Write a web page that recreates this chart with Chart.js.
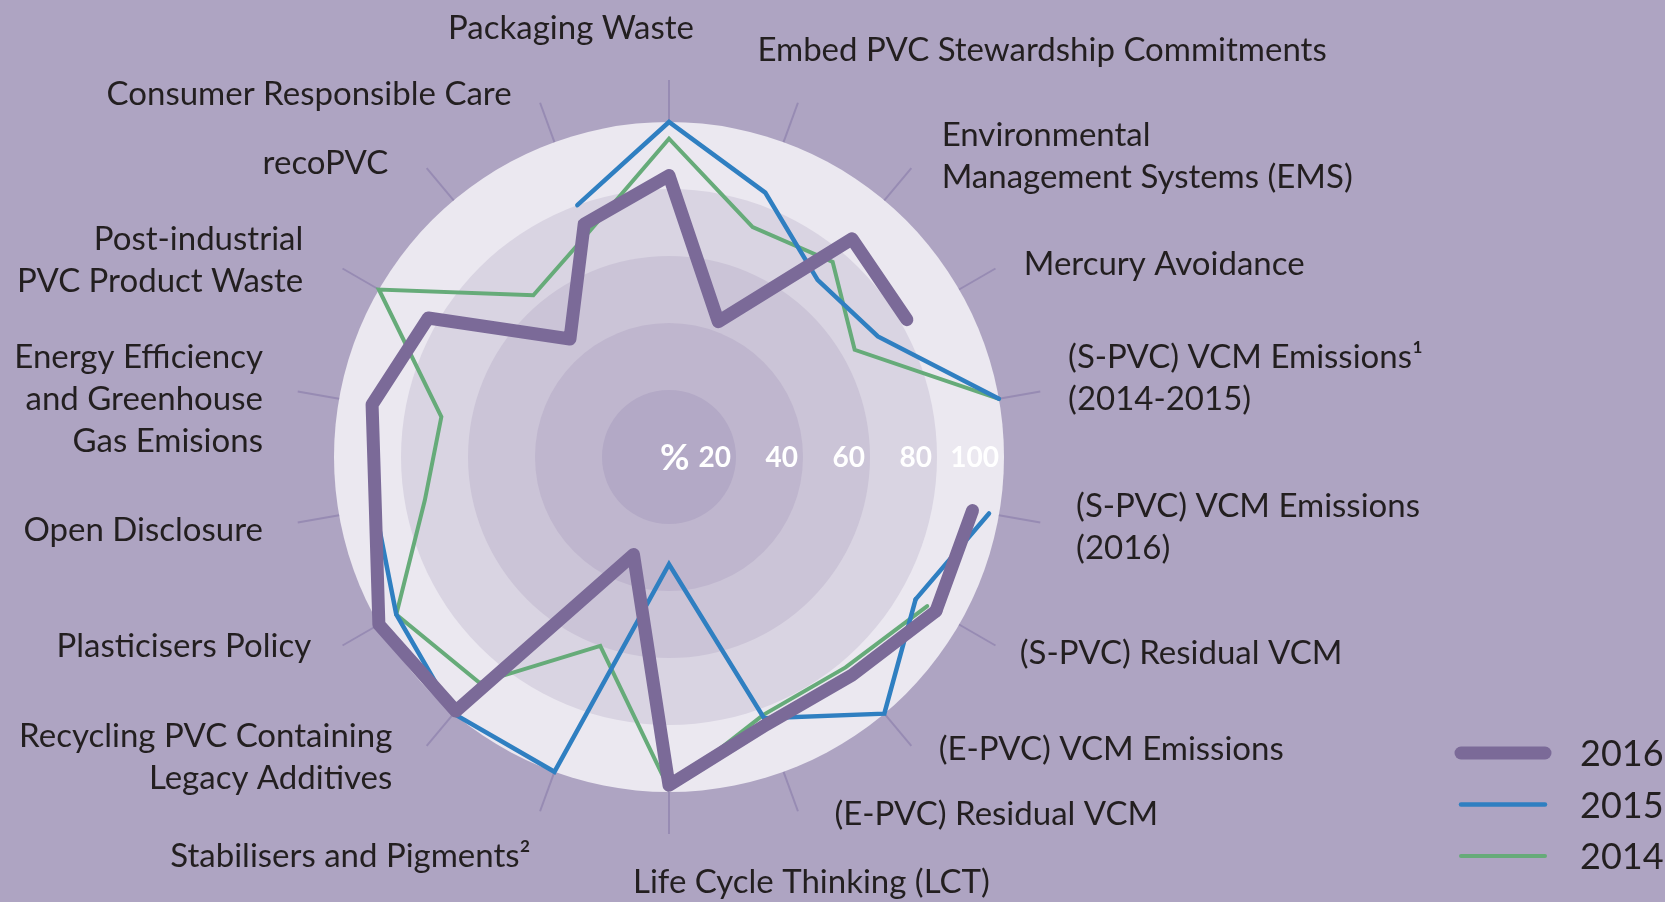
<!DOCTYPE html>
<html><head><meta charset="utf-8">
<script src="https://cdn.jsdelivr.net/npm/chart.js@4.4.1/dist/chart.umd.min.js"></script>
<style>
html,body{margin:0;padding:0;background:#aea4c2;}
#wrap{width:1665px;height:902px;position:relative;}
</style></head><body>
<div id="wrap"><canvas id="c"></canvas></div>
<script>
const categories = [
  "Packaging Waste",
  "Embed PVC Stewardship Commitments",
  ["Environmental", "Management Systems (EMS)"],
  "Mercury Avoidance",
  ["(S-PVC) VCM Emissions¹", "(2014-2015)"],
  ["(S-PVC) VCM Emissions", "(2016)"],
  "(S-PVC) Residual VCM",
  "(E-PVC) VCM Emissions",
  "(E-PVC) Residual VCM",
  "Life Cycle Thinking (LCT)",
  "Stabilisers and Pigments²",
  ["Recycling PVC Containing", "Legacy Additives"],
  "Plasticisers Policy",
  "Open Disclosure",
  ["Energy Efficiency", "and Greenhouse", "Gas Emisions"],
  ["Post-industrial", "PVC Product Waste"],
  "recoPVC",
  "Consumer Responsible Care"
];
const seriesNames = ["2016", "2015", "2014"];
const values2016 = [84, 43, 85, 82, null, 92, 92, 85, 85, 98, 31, 99, 100, 89, 90, 83, 46, 74];
const values2015 = [100, 84, 69, 72, 100, 97, 85, 100, 83, 32, 100, 100, 94, 89, null, null, null, 80];
const values2014 = [95, 73, 76, 64, 100, null, 89, 82, 82, 99, 60, 88, 94, 74, 69, 100, 63, 71];
const tickValues = [20, 40, 60, 80, 100];
const tickLabels = ["20", "40", "60", "80", "100"];
const unitLabel = "%";
// the two S-PVC VCM emission spokes cover different reporting periods: no line joins them
const noLinkAfter = 4;

const seriesColors = ["#7b6a98", "#2f7fc1", "#66ab79"];
const seriesWidths = [13, 4.5, 4];
const seriesJoins = ["round", "miter", "miter"];
const ringColors = ["#ebe8f0", "#d9d4e2", "#cbc4d7", "#bfb6ce", "#b3a9c6"]; // 100,80,60,40,20
const labelLayout = [
  {align: "center", dx: -98, dy: -40},
  {align: "left", dx: -45, dy: -42},
  {align: "left", dx: 22, dy: -24},
  {align: "left", dx: 17, dy: 1},
  {align: "left", dx: 15, dy: -33},
  {align: "left", dx: 23, dy: -20},
  {align: "left", dx: 13, dy: 0},
  {align: "left", dx: 19, dy: -8},
  {align: "left", dx: 32, dy: -10},
  {align: "left", dx: -36, dy: 34},
  {align: "right", dx: -5, dy: 32},
  {align: "right", dx: -26, dy: -21},
  {align: "right", dx: -20, dy: -7},
  {align: "right", dx: -22, dy: 4},
  {align: "right", dx: -22, dy: -33},
  {align: "right", dx: -28, dy: -24},
  {align: "right", dx: -30, dy: 4},
  {align: "right", dx: -24, dy: 2}
];
const FONT = "Lato, 'Open Sans', sans-serif";
const TEXT_COLOR = "#231f20";

// main run: everything except the link across the break; link run: the spokes after the break
function mainRun(values) {
  return values.map((v, i) => (i === noLinkAfter + 1 ? null : v));
}
function linkRun(values) {
  return values.map((v, i) => (i === noLinkAfter + 1 || i === noLinkAfter + 2 ? v : null));
}

const seriesValues = [values2016, values2015, values2014];
const datasets = [];
seriesValues.forEach((vals, k) => {
  const common = {
    borderColor: seriesColors[k], borderWidth: seriesWidths[k],
    borderJoinStyle: seriesJoins[k], borderCapStyle: "round",
    fill: false, pointRadius: 0, pointHitRadius: 0, spanGaps: false
  };
  datasets.push(Object.assign({label: seriesNames[k], data: mainRun(vals), inLegend: true}, common));
  datasets.push(Object.assign({label: seriesNames[k], data: linkRun(vals), inLegend: false}, common));
});

const decor = {
  id: "decor",
  beforeDatasetsDraw(chart) {
    const s = chart.scales.r, ctx = chart.ctx;
    ctx.save();
    const rev = tickValues.slice().reverse();
    rev.forEach((v, k) => {
      ctx.beginPath();
      ctx.arc(s.xCenter, s.yCenter, s.getDistanceFromCenterForValue(v), 0, Math.PI * 2);
      ctx.fillStyle = ringColors[k];
      ctx.fill();
    });
    ctx.strokeStyle = "#978bb3";
    ctx.lineWidth = 2;
    categories.forEach((_, i) => {
      const a = s.getPointPosition(i, s.drawingArea);
      const b = s.getPointPosition(i, s.drawingArea + 42);
      ctx.beginPath(); ctx.moveTo(a.x, a.y); ctx.lineTo(b.x, b.y); ctx.stroke();
    });
    ctx.fillStyle = "#ffffff";
    ctx.font = "bold 28px " + FONT;
    ctx.textAlign = "right";
    ctx.textBaseline = "alphabetic";
    let firstLeft = 0;
    tickValues.forEach((v, k) => {
      const x = s.xCenter + s.getDistanceFromCenterForValue(v) - 5;
      ctx.fillText(tickLabels[k], x, s.yCenter + 10);
      if (k === 0) firstLeft = x - ctx.measureText(tickLabels[k]).width;
    });
    ctx.font = "bold 36px " + FONT;
    ctx.fillText(unitLabel, firstLeft - 9, s.yCenter + 13);
    ctx.restore();
  },
  afterDraw(chart) {
    const s = chart.scales.r, ctx = chart.ctx;
    ctx.save();
    ctx.font = "33px " + FONT;
    ctx.fillStyle = TEXT_COLOR;
    ctx.textBaseline = "alphabetic";
    categories.forEach((lab, i) => {
      const p = s.getPointPosition(i, s.drawingArea + 55);
      const lay = labelLayout[i];
      const lines = Array.isArray(lab) ? lab : [lab];
      ctx.textAlign = lay.align;
      lines.forEach((t, j) => ctx.fillText(t, p.x + lay.dx, p.y + lay.dy + j * 42 + 12));
    });
    // legend
    const x0 = chart.width - 204;
    chart.data.datasets.filter(ds => ds.inLegend).forEach((ds, k) => {
      const y = chart.height - 149 + k * 51.5;
      ctx.strokeStyle = ds.borderColor;
      ctx.lineWidth = ds.borderWidth;
      ctx.lineCap = "round";
      ctx.beginPath(); ctx.moveTo(x0, y); ctx.lineTo(x0 + 84, y); ctx.stroke();
      ctx.fillStyle = TEXT_COLOR;
      ctx.font = "36px " + FONT;
      ctx.textAlign = "left";
      ctx.fillText(ds.label, x0 + 119, y + 13);
    });
    ctx.restore();
  }
};

new Chart(document.getElementById("c"), {
  type: "radar",
  data: {labels: categories, datasets: datasets},
  options: {
    responsive: true,
    maintainAspectRatio: false,
    animation: false,
    events: [],
    layout: {padding: {left: 334, top: 122, right: 661, bottom: 110}},
    plugins: {legend: {display: false}, tooltip: {enabled: false}},
    scales: {
      r: {
        min: 0, max: 100,
        ticks: {display: false, stepSize: 20},
        grid: {display: false},
        angleLines: {display: false},
        pointLabels: {display: false}
      }
    }
  },
  plugins: [decor]
});
</script>
</body></html>
